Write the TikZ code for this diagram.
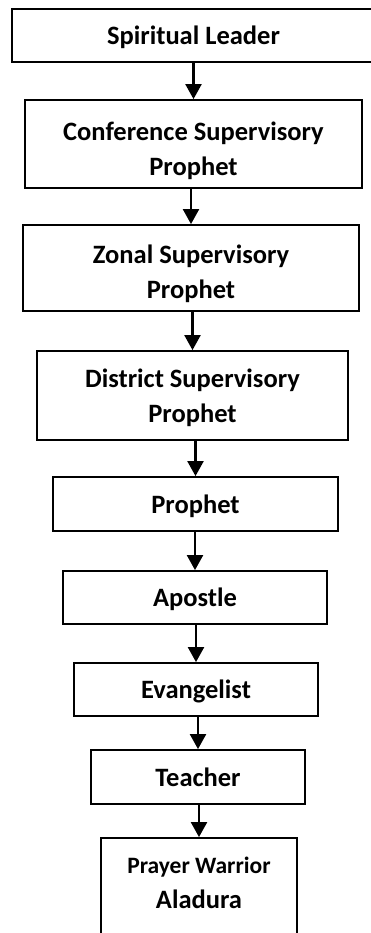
\documentclass[tikz,border=0pt]{standalone}
\usepackage{fontspec}
\setmainfont{Carlito}
\usetikzlibrary{arrows.meta}
\tikzset{%
  >={Triangle[width=16pt,length=15pt]},
  % Specifications for style of nodes:
       rankbox/.style = {rectangle, draw=black, line width=1.8pt,
                         inner sep=0pt, align=center,
                         font=\fontsize{26.5pt}{35pt}\selectfont\bfseries},
       onelinebox/.style = {rankbox, text depth=0pt},
       lifttext/.style = {execute at end node={\rule[-#1]{0pt}{#1}}},
       rankarrow/.style = {->, line width=2.2pt},
}

\begin{document}
\begin{tikzpicture}[x=1pt, y=-1pt]
  \useasboundingbox (0,0) rectangle (371,933);
  % Specification of nodes (position, size)
  \node (leader)      [onelinebox, minimum width=363pt, minimum height=53pt] at (193.5,35.5) {Spiritual Leader};
  \node (conference)  [rankbox, text height=67pt, minimum width=337pt, minimum height=88pt] at (193.5,144) {Conference Supervisory\\Prophet};
  \node (zonal)       [rankbox, text height=65pt, minimum width=336pt, minimum height=86pt] at (191,268) {Zonal Supervisory\\Prophet};
  \node (district)    [rankbox, text height=59pt, minimum width=311pt, minimum height=89pt] at (192.5,395.5) {District Supervisory\\Prophet};
  \node (prophet)     [onelinebox, minimum width=285pt, minimum height=54pt] at (195.5,504) {Prophet};
  \node (apostle)     [onelinebox, minimum width=264pt, minimum height=53pt] at (195,597.5) {Apostle};
  \node (evangelist)  [onelinebox, minimum width=244pt, minimum height=53pt] at (196,689.5) {Evangelist};
  \node (teacher)     [onelinebox, minimum width=214pt, minimum height=54pt] at (198,777) {Teacher};
  \node (warrior)     [rankbox, lifttext=13pt, minimum width=196pt, minimum height=102pt] at (199,889) {{\fontsize{23.5pt}{36pt}\selectfont Prayer Warrior}\\Aladura};

  \draw[rankarrow]    (conference.north |- leader.south) -- (conference.north);
  \draw[rankarrow]    (zonal.north |- conference.south) -- (zonal.north);
  \draw[rankarrow]    (district.north |- zonal.south) -- (district.north);
  \draw[rankarrow]    (prophet.north |- district.south) -- (prophet.north);
  \draw[rankarrow]    (apostle.north |- prophet.south) -- (apostle.north);
  \draw[rankarrow]    (evangelist.north |- apostle.south) -- (evangelist.north);
  \draw[rankarrow]    (teacher.north |- evangelist.south) -- (teacher.north);
  \draw[rankarrow]    (warrior.north |- teacher.south) -- (warrior.north);
\end{tikzpicture}
\end{document}
